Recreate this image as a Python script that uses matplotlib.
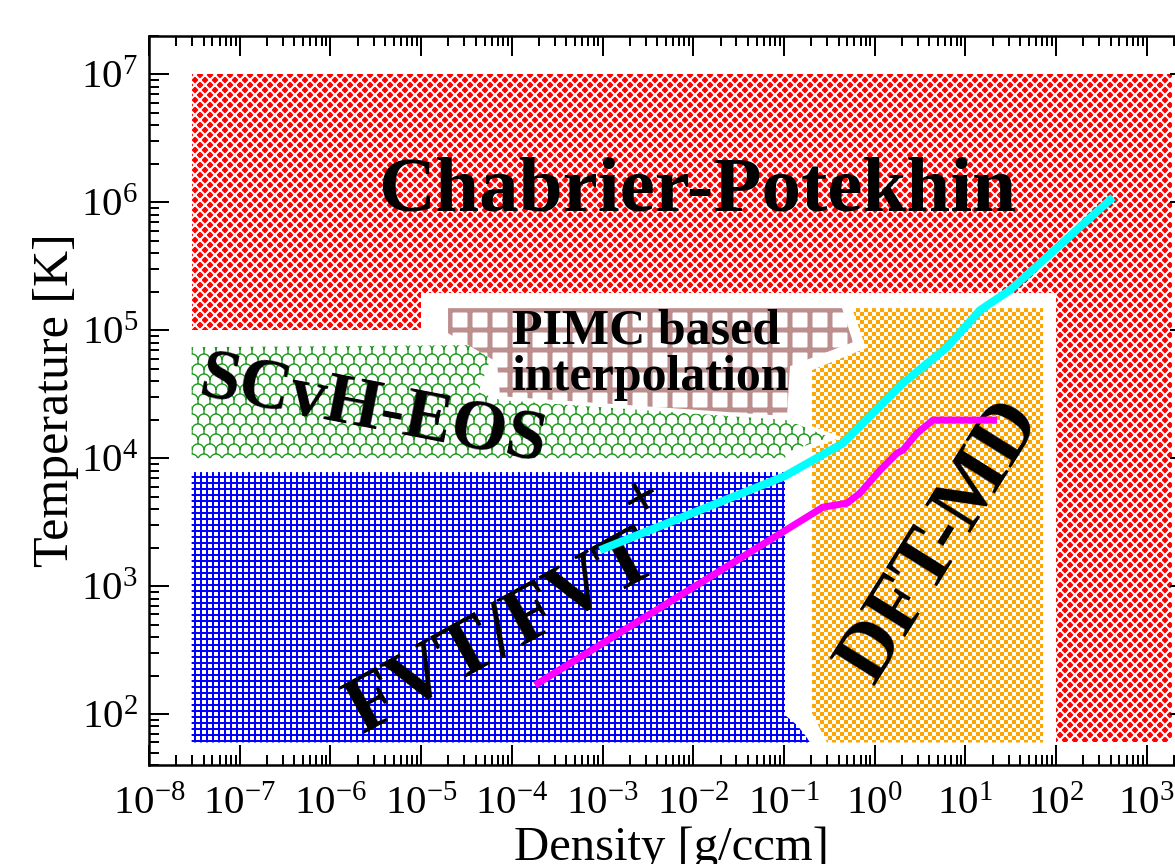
import warnings
import numpy as np
import matplotlib
matplotlib.use("Agg")
import matplotlib.pyplot as plt
import matplotlib.hatch as mhatch
from matplotlib.path import Path
from matplotlib.ticker import LogLocator, NullFormatter

warnings.filterwarnings("ignore")

DPI = 120
W_PX, H_PX = 1175, 864


def pt(px):
    """Convert a size in output pixels to points."""
    return px * 72.0 / DPI


# ---------------------------------------------------------------------------
# Region outlines in log10(density [g/ccm]) and log10(temperature [K])
# ---------------------------------------------------------------------------
cp_logrho = [-7.53, -7.53, -5.0, -5.0, 2.0, 2.0, 3.28, 3.28]
cp_logT = [7.0, 5.0, 5.0, 5.29, 5.29, 1.778, 1.778, 7.0]

scvh_logrho = [-7.53, -4.35, -4.24, -4.37, -4.13, -0.966, -0.50, -0.966, -0.988, -7.53]
scvh_logT = [4.867, 4.883, 4.766, 4.516, 4.453, 4.297, 4.164, 4.047, 4.0, 4.0]

pimc_logrho = [-4.703, -0.359, -0.238, -0.933, -0.966, -4.13, -4.163, -4.703]
pimc_logT = [5.172, 5.172, 4.906, 4.719, 4.328, 4.484, 4.75, 4.977]

dft_logrho = [-0.249, 1.857, 1.857, -0.525, -0.69, -0.69, -0.36, -0.69, -0.69, -0.095]
dft_logT = [5.172, 5.172, 1.778, 1.778, 2.008, 4.078, 4.164, 4.25, 4.688, 4.859]

fvt_logrho = [-7.53, -0.988, -0.988, -0.856, -0.767, -0.712, -7.53]
fvt_logT = [3.891, 3.891, 1.992, 1.914, 1.836, 1.778, 1.778]

# Curves
cyan_logrho = [-3.028, -0.99, -0.348, 0.313, 0.798, 1.162, 1.493, 2.629]
cyan_logT = [3.281, 3.86, 4.117, 4.586, 4.867, 5.156, 5.313, 6.039]

magenta_logrho = [-3.744, -0.569, -0.304, -0.161, 0.060, 0.247, 0.313, 0.467, 0.644, 1.349]
magenta_logT = [2.227, 3.617, 3.648, 3.727, 3.906, 4.039, 4.063, 4.195, 4.297, 4.297]

# Labels
label_cp = "Chabrier-Potekhin"
label_scvh = "SCvH-EOS"
label_pimc = ["PIMC based", "interpolation"]
label_fvt = "FVT/FVT"
label_fvt_sup = "+"
label_dft = "DFT-MD"
xlabel = "Density [g/ccm]"
ylabel = "Temperature [K]"


# ---------------------------------------------------------------------------
# Fill textures as custom hatch tiles (unit square = one inch = DPI pixels)
# ---------------------------------------------------------------------------
def rect(x0, y0, x1, y1):
    return [(x0, y0), (x1, y0), (x1, y1), (x0, y1)]


def tile_path(polys):
    verts, codes = [], []
    for p in polys:
        p = np.asarray(p, float)
        x, y = p[:, 0], p[:, 1]
        if np.sum(x * np.roll(y, -1) - np.roll(x, -1) * y) < 0:
            p = p[::-1]
        verts.extend(p.tolist())
        verts.append(p[0].tolist())
        codes.extend([Path.MOVETO] + [Path.LINETO] * (len(p) - 1) + [Path.CLOSEPOLY])
    return Path(np.array(verts), np.array(codes, dtype=Path.code_type))


def weave_tile(n, w):
    d = w / 2 * np.sqrt(2)
    polys = []
    for k in range(-n, n + 1):
        c = k / n
        polys.append([(-0.1, -0.1 + c - d), (1.1, 1.1 + c - d),
                      (1.1, 1.1 + c + d), (-0.1, -0.1 + c + d)])
    for k in range(0, 2 * n + 1):
        c = k / n
        polys.append([(-0.1, c + 0.1 - d), (1.1, c - 1.1 - d),
                      (1.1, c - 1.1 + d), (-0.1, c + 0.1 + d)])
    return polys


def scale_tile(nc, nr, w, m=18):
    r = 0.5 / nc
    th = np.linspace(0, np.pi, m)
    polys = []
    for j in range(-1, nr + 1):
        for i in range(-1, nc + 1):
            cx = (i + 0.5 * (j % 2)) / nc
            cy = j / nr
            outer = np.c_[cx + (r + w / 2) * np.cos(th), cy + (r + w / 2) * np.sin(th)]
            inner = np.c_[cx + (r - w / 2) * np.cos(th[::-1]), cy + (r - w / 2) * np.sin(th[::-1])]
            polys.append(np.vstack([outer, inner]))
            polys.append(rect(cx - w / 2, cy + r, cx + w / 2, cy + 1.0 / nr))
    return polys


def grid_tile(n, w):
    polys = []
    for k in range(n):
        c = (k + 0.5) / n
        polys.append(rect(-0.01, c - w / 2, 1.01, c + w / 2))
        polys.append(rect(c - w / 2, -0.01, c + w / 2, 1.01))
    return polys


def checker_tile(n):
    s = 1.0 / n
    return [rect(i * s, j * s, (i + 1) * s, (j + 1) * s)
            for i in range(n) for j in range(n) if (i + j) % 2 == 0]


class TileHatch(mhatch.HatchPatternBase):
    tiles = {}

    def __init__(self, hatch, density):
        self.paths = [self.tiles[c] for c in dict.fromkeys(hatch) if c in self.tiles]
        self.num_vertices = sum(len(p.vertices) for p in self.paths)

    def set_vertices_and_codes(self, vertices, codes):
        i = 0
        for p in self.paths:
            n = len(p.vertices)
            vertices[i:i + n] = p.vertices
            codes[i:i + n] = p.codes
            i += n


T = float(DPI)  # tile size in pixels
TileHatch.tiles = {
    "/": tile_path(weave_tile(12, 2.0 / T)),        # 10 px woven lattice
    "o": tile_path(scale_tile(10, 12, 1.4 / T)),    # 12 x 10 px scallops
    "+": tile_path(grid_tile(20, 2.0 / T)),         # 6 px fine grid
    "x": tile_path(grid_tile(6, 5.0 / T)),          # 20 px coarse grid
    ".": tile_path(checker_tile(30)),               # 4 px checkerboard
}
mhatch._hatch_types = [TileHatch]

# ---------------------------------------------------------------------------
plt.rcParams.update({
    "font.family": ["Liberation Serif", "DejaVu Serif"],
    "mathtext.fontset": "custom",
    "mathtext.rm": "Liberation Serif",
    "mathtext.it": "Liberation Serif:italic",
    "mathtext.bf": "Liberation Serif:bold",
    "axes.unicode_minus": False,
    "hatch.linewidth": 0.01,
})

fig = plt.figure(figsize=(W_PX / DPI, H_PX / DPI), dpi=DPI)
ax = fig.add_axes([149 / W_PX, 1 - 765 / H_PX, 1041 / W_PX, 729.3 / H_PX])
ax.set_xscale("log")
ax.set_yscale("log")
ax.set_xlim(1e-8, 3e3)
ax.set_ylim(40, 2e7)


def region(lx, ly, face, hcolor, hatch):
    ax.fill(10 ** np.asarray(lx), 10 ** np.asarray(ly), facecolor=face,
            edgecolor=hcolor, hatch=hatch, linewidth=0, zorder=1)


region(cp_logrho, cp_logT, "#ff0000", "white", "/")
region(scvh_logrho, scvh_logT, "white", "#1f9a1f", "o")
region(pimc_logrho, pimc_logT, "white", "#bc8f8f", "x")
region(dft_logrho, dft_logT, "white", "#ffa500", ".")
region(fvt_logrho, fvt_logT, "white", "#0000ff", "+")

ax.plot(10 ** np.asarray(cyan_logrho), 10 ** np.asarray(cyan_logT), color="#00ffff",
        lw=pt(8), solid_capstyle="butt", solid_joinstyle="round", zorder=5)
ax.plot(10 ** np.asarray(magenta_logrho), 10 ** np.asarray(magenta_logT), color="#ff00ff",
        lw=pt(7), solid_capstyle="butt", solid_joinstyle="round", zorder=5)

bold = dict(fontweight="bold", color="black", zorder=4)
ax.text(10 ** -1.958, 10 ** 5.9375, label_cp, fontsize=pt(79), ha="center", va="baseline", **bold)
ax.text(10 ** -5.574, 10 ** 4.227, label_scvh, fontsize=pt(72), ha="center", va="baseline",
        rotation=-11, rotation_mode="anchor", **bold)
ax.text(10 ** -4.0, 10 ** 4.898, label_pimc[0], fontsize=pt(50), ha="left", va="baseline", **bold)
ax.text(10 ** -4.0, 10 ** 4.531, label_pimc[1], fontsize=pt(50), ha="left", va="baseline", **bold)
ax.text(10 ** -4.0, 10 ** 2.49, label_fvt, fontsize=pt(80), ha="center", va="baseline",
        rotation=29, rotation_mode="anchor", **bold)
ax.text(10 ** -2.56, 10 ** 3.68, label_fvt_sup, fontsize=pt(62), ha="center", va="center",
        rotation=29, rotation_mode="anchor", **bold)
ax.text(10 ** 0.73, 10 ** 3.35, label_dft, fontsize=pt(81), ha="center", va="center",
        rotation=58, rotation_mode="anchor", **bold)

# Axes styling
ax.set_axisbelow(False)
for s in ax.spines.values():
    s.set_linewidth(pt(2.5))
    s.set_zorder(6)
ax.xaxis.set_major_locator(LogLocator(base=10, numticks=30))
ax.yaxis.set_major_locator(LogLocator(base=10, numticks=30))
ax.xaxis.set_minor_locator(LogLocator(base=10, subs=np.arange(2, 10), numticks=300))
ax.yaxis.set_minor_locator(LogLocator(base=10, subs=np.arange(2, 10), numticks=300))
ax.xaxis.set_minor_formatter(NullFormatter())
ax.yaxis.set_minor_formatter(NullFormatter())
ax.tick_params(which="both", direction="in", top=True, right=True, width=pt(2),
               colors="black", labelsize=pt(41), zorder=6)
ax.tick_params(which="major", length=pt(20))
ax.tick_params(which="minor", length=pt(10))
ax.tick_params(axis="x", pad=pt(21))
ax.tick_params(axis="y", pad=pt(11))

ax.set_xlabel(xlabel, fontsize=pt(48.6))
ax.set_ylabel(ylabel, fontsize=pt(50))
ax.xaxis.set_label_coords((671 - 149) / 1041, -0.083)
ax.yaxis.set_label_coords(-0.067, 0.5)

fig.savefig("out.png", dpi=DPI)
